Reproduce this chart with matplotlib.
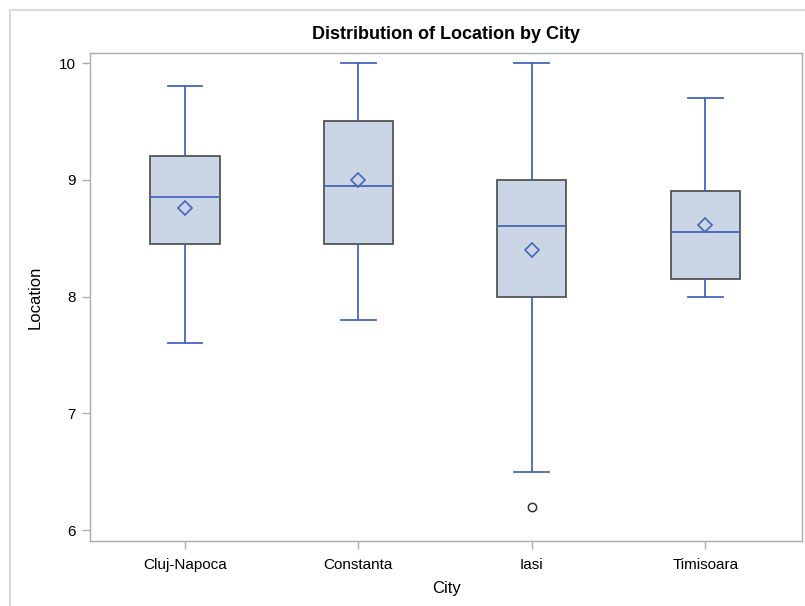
import matplotlib
matplotlib.use('Agg')
import matplotlib.pyplot as plt
from matplotlib.lines import Line2D

plt.rcParams['font.family'] = ['Liberation Sans', 'DejaVu Sans']

# Box summary per city
cities = ['Cluj-Napoca', 'Constanta', 'Iasi', 'Timisoara']
whisker_low = [7.6, 7.8, 6.5, 8.0]
q1 = [8.45, 8.45, 8.0, 8.15]
median = [8.85, 8.95, 8.6, 8.55]
q3 = [9.2, 9.5, 9.0, 8.9]
whisker_high = [9.8, 10.0, 10.0, 9.7]
mean = [8.76, 9.0, 8.4, 8.61]
outliers = [[], [], [6.2], []]

blue = '#4466BB'
stats = []
for i, c in enumerate(cities):
    stats.append({'label': c, 'whislo': whisker_low[i], 'q1': q1[i], 'med': median[i],
                  'q3': q3[i], 'whishi': whisker_high[i], 'mean': mean[i],
                  'fliers': outliers[i]})

fig = plt.figure(figsize=(8.05, 6.06), dpi=100)
ax = fig.add_axes([90 / 805, 1 - 541 / 606, 712 / 805, 488 / 606])

ax.bxp(stats, positions=range(len(cities)), widths=0.4, patch_artist=True,
       showmeans=True, showfliers=True,
       boxprops=dict(facecolor='#CAD5E5', edgecolor='#555555', linewidth=1.3),
       medianprops=dict(color=blue, linewidth=1.3),
       whiskerprops=dict(color=blue, linewidth=1.3),
       capprops=dict(color=blue, linewidth=1.3),
       meanprops=dict(marker='D', markerfacecolor='none', markeredgecolor=blue,
                      markersize=7, markeredgewidth=1.2),
       flierprops=dict(marker='o', markerfacecolor='none', markeredgecolor='#333333',
                       markersize=6, markeredgewidth=1.1))

ax.set_xlim(-0.547, 3.558)
ax.set_ylim(5.906, 10.086)
ax.set_yticks([6, 7, 8, 9, 10])
ax.set_xticks(range(len(cities)))
ax.set_xticklabels(cities)

for s in ax.spines.values():
    s.set_color('#A8ADB3')
    s.set_linewidth(1.0)
ax.tick_params(colors='#A8ADB3', labelcolor='black', labelsize=11, length=6, width=1)
ax.tick_params(axis='y', pad=4)
ax.tick_params(axis='x', pad=6)

ax.set_title('Distribution of Location by City', fontsize=13, fontweight='bold', pad=10)
ax.set_xlabel('City', fontsize=12, labelpad=7)
ax.set_ylabel('Location', fontsize=12, labelpad=12)

# light outer frame around the graph area
fig.add_artist(Line2D([10 / 805, 1], [1 - 10 / 606, 1 - 10 / 606], color='#D4D4D4', lw=1.2,
                      transform=fig.transFigure))
fig.add_artist(Line2D([10 / 805, 10 / 805], [0, 1 - 10 / 606], color='#D4D4D4', lw=1.2,
                      transform=fig.transFigure))

fig.savefig('out.png', dpi=100)
